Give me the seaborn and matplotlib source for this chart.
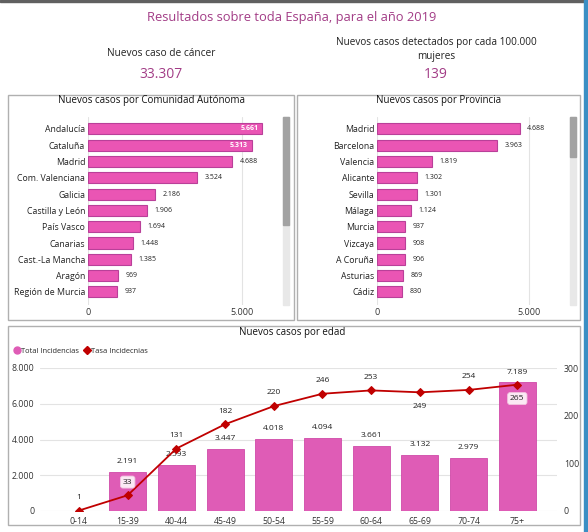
import matplotlib
matplotlib.use('Agg')
import numpy as np
import matplotlib.pyplot as plt
import seaborn as sns
from matplotlib.patches import Rectangle
from matplotlib.lines import Line2D

# ---- data ----
ccaa_names = ['Andalucía', 'Cataluña', 'Madrid', 'Com. Valenciana', 'Galicia', 'Castilla y León',
              'País Vasco', 'Canarias', 'Cast.-La Mancha', 'Aragón', 'Región de Murcia']
ccaa_cases = [5661, 5313, 4688, 3524, 2186, 1906, 1694, 1448, 1385, 969, 937]

prov_names = ['Madrid', 'Barcelona', 'Valencia', 'Alicante', 'Sevilla', 'Málaga', 'Murcia',
              'Vizcaya', 'A Coruña', 'Asturias', 'Cádiz']
prov_cases = [4688, 3963, 1819, 1302, 1301, 1124, 937, 908, 906, 869, 830]

age_groups = ['0-14', '15-39', '40-44', '45-49', '50-54', '55-59', '60-64', '65-69', '70-74', '75+']
age_total = [3, 2191, 2593, 3447, 4018, 4094, 3661, 3132, 2979, 7189]
age_rate = [1, 33, 131, 182, 220, 246, 253, 249, 254, 265]

total_cases = '33.307'
rate_per_100k = '139'

W, H = 588, 532
PINK = '#ea55b4'
PINK_EDGE = '#b94099'
PINK_AGE = '#df5cb6'
TITLE_COL = '#a23c86'
LINE_RED = '#c00000'

sns.set_theme(style='white')
plt.rcParams['font.family'] = ['Open Sans', 'DejaVu Sans']


def fmt(v):
    return f'{v:,}'.replace(',', '.')


def box(x0, y0, x1, y1):
    # pixel box (top-left origin) -> figure fractions
    return [x0 / W, 1 - y1 / H, (x1 - x0) / W, (y1 - y0) / H]


fig = plt.figure(figsize=(W / 100, H / 100), dpi=100)
fig.patch.set_facecolor('white')

# outer frame and panel frames
fig.add_artist(Rectangle((0, 1 - 2 / H), 1, 2 / H, transform=fig.transFigure, color='#606060'))
fig.add_artist(Rectangle((1 - 4 / W, 0), 4 / W, 1, transform=fig.transFigure, color='#3b8fc4'))
for b in [(8, 95, 294, 320), (297, 95, 580, 320), (8, 326, 580, 525)]:
    x0, y0, w, h = box(*b)
    fig.add_artist(Rectangle((x0, y0), w, h, transform=fig.transFigure, fill=False,
                             edgecolor='#b0b0b0', linewidth=1))

# header texts
fig.text(292 / W, 1 - 17 / H, 'Resultados sobre toda España, para el año 2019', ha='center', va='center',
         fontsize=9.3, color=TITLE_COL)
fig.text(161 / W, 1 - 54 / H, 'Nuevos caso de cáncer', ha='center', va='center', fontsize=7.3, color='#222222')
fig.text(161 / W, 1 - 75 / H, total_cases, ha='center', va='center', fontsize=10, color=TITLE_COL)
fig.text(436 / W, 1 - 43 / H, 'Nuevos casos detectados por cada 100.000', ha='center', va='center',
         fontsize=7.2, color='#222222')
fig.text(436 / W, 1 - 57 / H, 'mujeres', ha='center', va='center', fontsize=7.2, color='#222222')
fig.text(436 / W, 1 - 75 / H, rate_per_100k, ha='center', va='center', fontsize=10, color=TITLE_COL)


def hbar_panel(rect, names, vals, px_per_5000, title, title_x, inside_n, scroll, thumb_end):
    x0, x1 = rect[0], rect[2]
    ax = fig.add_axes(box(*rect))
    sns.barplot(x=vals, y=names, orient='h', ax=ax, color=PINK, edgecolor=PINK_EDGE,
                linewidth=0.8, width=0.68, saturation=1)
    ax.set_xlim(0, (x1 - x0) / px_per_5000 * 5000)
    ax.set_ylim(10.8, -0.73)
    ax.set_xticks([0, 5000])
    ax.set_xticklabels(['0', '5.000'], fontsize=6.5, color='#333333')
    ax.tick_params(axis='both', length=0, pad=2)
    ax.tick_params(axis='y', labelsize=6.3, labelcolor='#222222')
    ax.set_xlabel('')
    ax.set_ylabel('')
    for s in ax.spines.values():
        s.set_visible(False)
    ax.grid(axis='x', color='#e3e3e3', linewidth=0.8)
    ax.set_axisbelow(True)
    for i, v in enumerate(vals):
        if i < inside_n:
            ax.text(v - 120, i, fmt(v), ha='right', va='center', fontsize=5, color='white',
                    fontweight='bold')
        else:
            ax.text(v + 250, i, fmt(v), ha='left', va='center', fontsize=5, color='#222222')
    fig.text(title_x / W, 1 - 101 / H, title, ha='center', va='center', fontsize=7, color='#111111')
    sx0, sx1 = scroll
    tx, ty, tw, th = box(sx0, 117, sx1, 305)
    fig.add_artist(Rectangle((tx, ty), tw, th, transform=fig.transFigure, color='#e8e8e8'))
    tx, ty, tw, th = box(sx0, 117, sx1, thumb_end)
    fig.add_artist(Rectangle((tx, ty), tw, th, transform=fig.transFigure, color='#a2a2a2'))
    return ax


hbar_panel((88, 117, 280, 305), ccaa_names, ccaa_cases, 154, 'Nuevos casos por Comunidad Autónoma',
           151, 2, (283, 289), 225)
hbar_panel((377, 117, 566, 305), prov_names, prov_cases, 152, 'Nuevos casos por Provincia',
           439, 0, (570, 576), 157)

# ---- bottom: cases by age ----
ax = fig.add_axes(box(40, 368, 557, 511))
sns.barplot(x=age_groups, y=age_total, ax=ax, color=PINK_AGE, edgecolor='#d04aa8', linewidth=0.6,
            width=0.76, saturation=1)
ax.set_xlim(-0.80, 9.815)
ax.set_ylim(0, 8000)
ax.set_yticks([0, 2000, 4000, 6000, 8000])
ax.set_yticklabels([fmt(v) for v in [0, 2000, 4000, 6000, 8000]], fontsize=6.3, color='#333333')
ax.tick_params(axis='both', length=0, pad=4)
ax.tick_params(axis='x', labelsize=6.3, labelcolor='#333333')
ax.set_xlabel('')
ax.set_ylabel('')
for s in ax.spines.values():
    s.set_visible(False)
ax.grid(axis='y', color='#e3e3e3', linewidth=0.8)
ax.set_axisbelow(True)
for i, v in enumerate(age_total):
    if i == 0:
        continue
    ax.annotate(fmt(v), (i, v), xytext=(0, 7.5), textcoords='offset points', ha='center', va='center',
                fontsize=6, color='#222222')

ax2 = ax.twinx()
sns.lineplot(x=np.arange(len(age_groups)), y=age_rate, ax=ax2, color=LINE_RED, linewidth=1.3,
             marker='D', markersize=4, markeredgecolor=LINE_RED)
ax2.set_ylim(0, 300)
ax2.set_yticks([0, 100, 200, 300])
ax2.set_yticklabels(['0', '100', '200', '300'], fontsize=6.3, color='#333333')
ax2.tick_params(axis='y', length=0, pad=5)
ax2.set_ylabel('')
for s in ax2.spines.values():
    s.set_visible(False)
below = {7, 9}
boxed = {1, 9}
for i, r in enumerate(age_rate):
    dy = -10 if i in below else 9.5
    kw = {}
    if i in boxed:
        kw['bbox'] = dict(boxstyle='round,pad=0.3', fc='#fbe9f4', ec='#f2c4e0', lw=0.6)
    ax2.annotate(str(r), (i, r), xytext=(0, dy), textcoords='offset points', ha='center', va='center',
                 fontsize=6, color='#222222', **kw)

fig.text(292 / W, 1 - 332 / H, 'Nuevos casos por edad', ha='center', va='center', fontsize=7, color='#111111')
handles = [Line2D([], [], marker='o', linestyle='', color=PINK_AGE, markersize=5),
           Line2D([], [], marker='D', linestyle='', color=LINE_RED, markersize=4)]
fig.legend(handles, ['Total Incidencias', 'Tasa Incidecnias'], loc='center left',
           bbox_to_anchor=(10 / W, 1 - 351 / H), ncol=2, frameon=False, fontsize=5.4,
           handletextpad=0.1, columnspacing=0.5, handlelength=1.0, borderaxespad=0)

fig.savefig('out.png', dpi=100)
